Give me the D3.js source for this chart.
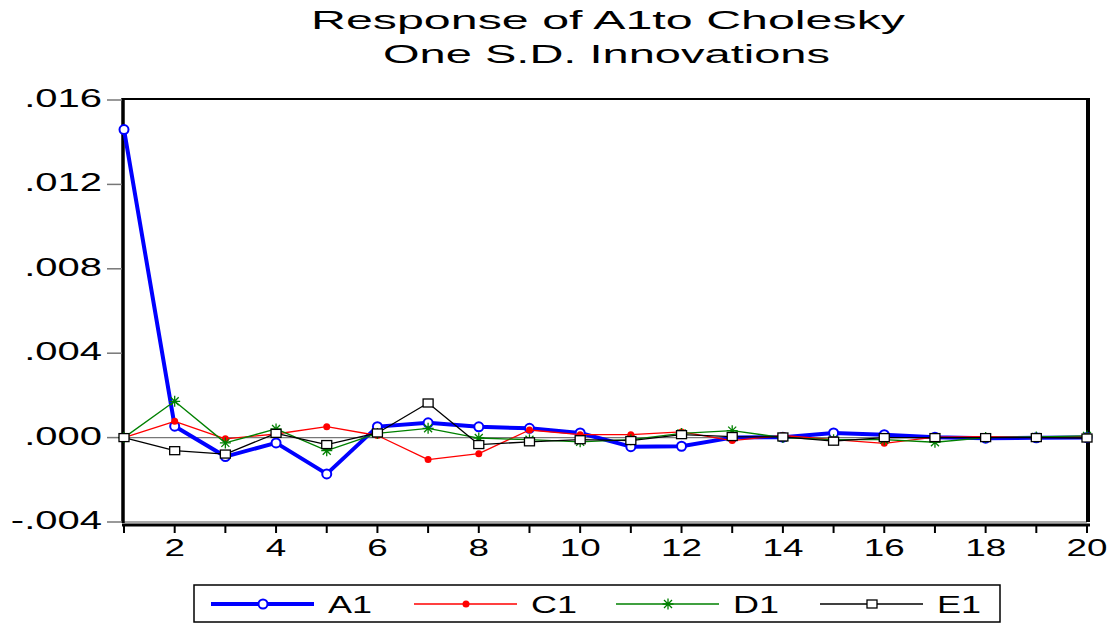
<!DOCTYPE html>
<html>
<head>
<meta charset="utf-8">
<script src="https://cdn.jsdelivr.net/npm/d3@7"></script>
<style>
  body { margin: 0; background: #fff; }
  text { font-family: "Liberation Sans", Arial, sans-serif; fill: #000; }
</style>
</head>
<body>
<script>
// periods 1..20
var periods = d3.range(1, 21);
var xTickLabels = [2, 4, 6, 8, 10, 12, 14, 16, 18, 20];
var yTicks = [-0.004, 0.000, 0.004, 0.008, 0.012, 0.016];
var yTickLabels = ["-.004", ".000", ".004", ".008", ".012", ".016"];

var A1 = [0.0146, 0.00054, -0.0009, -0.00025, -0.00172, 0.00052, 0.0007, 0.00051, 0.00044, 0.00022,
          -0.00043, -0.00041, 0.0, 0.00002, 0.00022, 0.00014, 0.00002, -0.00003, -0.00001, 0.0];
var C1 = [0, 0.00077, -0.00006, 0.00017, 0.00052, 0.0001, -0.00104, -0.00076, 0.00036, 0.00014,
          0.00014, 0.00027, -0.00014, 0.0001, -0.0001, -0.00027, 0.00002, 0.00005, 0.0, 0.00005];
var D1 = [0, 0.00172, -0.00025, 0.00041, -0.00062, 0.0002, 0.00044, -0.00002, -0.0001, -0.0002,
          -0.0001, 0.0002, 0.00033, 0.0, -0.0001, -0.0001, -0.00022, 0.0, 0.00003, 0.00008];
var E1 = [0, -0.00062, -0.00078, 0.0002, -0.00033, 0.00022, 0.00164, -0.00033, -0.0002, -0.0001,
          -0.00014, 0.00014, 0.00005, 0.00003, -0.00017, 0.0, 0.0, 0.0, 0.0, -0.00002];

var seriesNames = ["A1", "C1", "D1", "E1"];
var seriesValues = [A1, C1, D1, E1];

var styles = {
  A1: { color: "#0000ff", width: 4, marker: "circle" },
  C1: { color: "#ff0000", width: 1.3, marker: "dot" },
  D1: { color: "#008000", width: 1.3, marker: "star" },
  E1: { color: "#000000", width: 1.3, marker: "square" }
};

var W = 1117, H = 624;
// note: "top" is taken by window.top, so plot edges get their own names
var plotL = 124, plotR = 1087, plotT = 100, plotB = 522;
var stretch = 1.6; // text in the picture is wide

var svg = d3.select("body").append("svg")
  .attr("width", W)
  .attr("height", H);

var x = d3.scaleLinear().domain([1, 20]).range([plotL, plotR]);
var y = d3.scaleLinear().domain([-0.004, 0.016]).range([plotB, plotT]);

//wide text helper
function wideText(g, tx, ty, str, size, anchor, sx) {
  return g.append("text")
    .attr("transform", "translate(" + tx + "," + ty + ") scale(" + (sx || stretch) + ",1)")
    .attr("text-anchor", anchor)
    .style("font-size", size + "px")
    .text(str);
}

// title
svg.append("text")
  .attr("x", 311).attr("y", 29)
  .attr("textLength", 594).attr("lengthAdjust", "spacingAndGlyphs")
  .style("font-size", "25px")
  .text("Response of A1to Cholesky");
svg.append("text")
  .attr("x", 383).attr("y", 63)
  .attr("textLength", 447).attr("lengthAdjust", "spacingAndGlyphs")
  .style("font-size", "25px")
  .text("One S.D. Innovations");

// zero line
svg.append("line")
  .attr("x1", plotL).attr("x2", plotR)
  .attr("y1", y(0)).attr("y2", y(0))
  .attr("stroke", "#777").attr("stroke-width", 1.2);

// frame
svg.append("line").attr("x1", plotL).attr("x2", plotR).attr("y1", plotT - 1).attr("y2", plotT - 1)
  .attr("stroke", "#000").attr("stroke-width", 2);
svg.append("line").attr("x1", plotL).attr("x2", plotR).attr("y1", plotB).attr("y2", plotB)
  .attr("stroke", "#555").attr("stroke-width", 1);
svg.append("line").attr("x1", plotR + 1).attr("x2", plotR + 1).attr("y1", plotT - 2).attr("y2", plotB)
  .attr("stroke", "#000").attr("stroke-width", 4);
svg.append("line").attr("x1", plotL - 1).attr("x2", plotL - 1).attr("y1", plotT - 2).attr("y2", plotB + 1)
  .attr("stroke", "#000").attr("stroke-width", 3.5);

// y axis ticks + labels
var yAxis = svg.append("g");
yTicks.forEach(function (t, i) {
  yAxis.append("line")
    .attr("x1", 107).attr("x2", plotL - 2)
    .attr("y1", y(t)).attr("y2", y(t))
    .attr("stroke", "#777").attr("stroke-width", 1.5);
  wideText(yAxis, 102, y(t) + 7, yTickLabels[i], 25, "end");
});

// x axis line, ticks, labels
var xAxis = svg.append("g");
xAxis.append("line")
  .attr("x1", plotL - 2).attr("x2", plotR + 3)
  .attr("y1", plotB + 3).attr("y2", plotB + 3)
  .attr("stroke", "#000").attr("stroke-width", 3);
periods.forEach(function (p) {
  xAxis.append("line")
    .attr("x1", x(p)).attr("x2", x(p))
    .attr("y1", plotB + 3).attr("y2", plotB + 11)
    .attr("stroke", "#000").attr("stroke-width", 2);
});
xTickLabels.forEach(function (p) {
  wideText(xAxis, x(p), 556, String(p), 23, "middle");
});

// markers
function drawMarker(g, kind, cx, cy, color) {
  if (kind == "circle") {
    g.append("circle").attr("cx", cx).attr("cy", cy).attr("r", 4.5)
      .attr("fill", "#fff").attr("stroke", color).attr("stroke-width", 2);
  } else if (kind == "dot") {
    g.append("circle").attr("cx", cx).attr("cy", cy).attr("r", 3.5)
      .attr("fill", color);
  } else if (kind == "star") {
    var s = 5.5, d = 4;
    g.append("path")
      .attr("d", "M" + (cx - s) + "," + cy + "H" + (cx + s) +
                 "M" + cx + "," + (cy - s) + "V" + (cy + s) +
                 "M" + (cx - d) + "," + (cy - d) + "L" + (cx + d) + "," + (cy + d) +
                 "M" + (cx - d) + "," + (cy + d) + "L" + (cx + d) + "," + (cy - d))
      .attr("stroke", color).attr("stroke-width", 1.3).attr("fill", "none");
  } else if (kind == "square") {
    g.append("rect").attr("x", cx - 5).attr("y", cy - 4).attr("width", 10).attr("height", 8)
      .attr("fill", "#fff").attr("stroke", color).attr("stroke-width", 1.3);
  }
}

var line = d3.line()
  .x(function (d, i) { return x(periods[i]); })
  .y(function (d) { return y(d); });

seriesNames.forEach(function (name, k) {
  var st = styles[name];
  var g = svg.append("g").attr("class", "series");
  g.append("path")
    .datum(seriesValues[k])
    .attr("d", line)
    .attr("fill", "none")
    .attr("stroke", st.color)
    .attr("stroke-width", st.width)
    .attr("stroke-linejoin", "round");
  seriesValues[k].forEach(function (v, i) {
    drawMarker(g, st.marker, x(periods[i]), y(v), st.color);
  });
});

// legend
var legend = svg.append("g");
legend.append("rect")
  .attr("x", 194).attr("y", 585).attr("width", 806).attr("height", 37)
  .attr("fill", "#fff").attr("stroke", "#000").attr("stroke-width", 1.5);
var legendX = [211, 414, 616, 820];
seriesNames.forEach(function (name, k) {
  var st = styles[name];
  var x0 = legendX[k];
  legend.append("line")
    .attr("x1", x0).attr("x2", x0 + 103)
    .attr("y1", 604).attr("y2", 604)
    .attr("stroke", st.color).attr("stroke-width", st.width);
  drawMarker(legend, st.marker, x0 + 52, 604, st.color);
  wideText(legend, x0 + 117, 613, name, 24, "start", 1.5);
});
</script>
</body>
</html>
